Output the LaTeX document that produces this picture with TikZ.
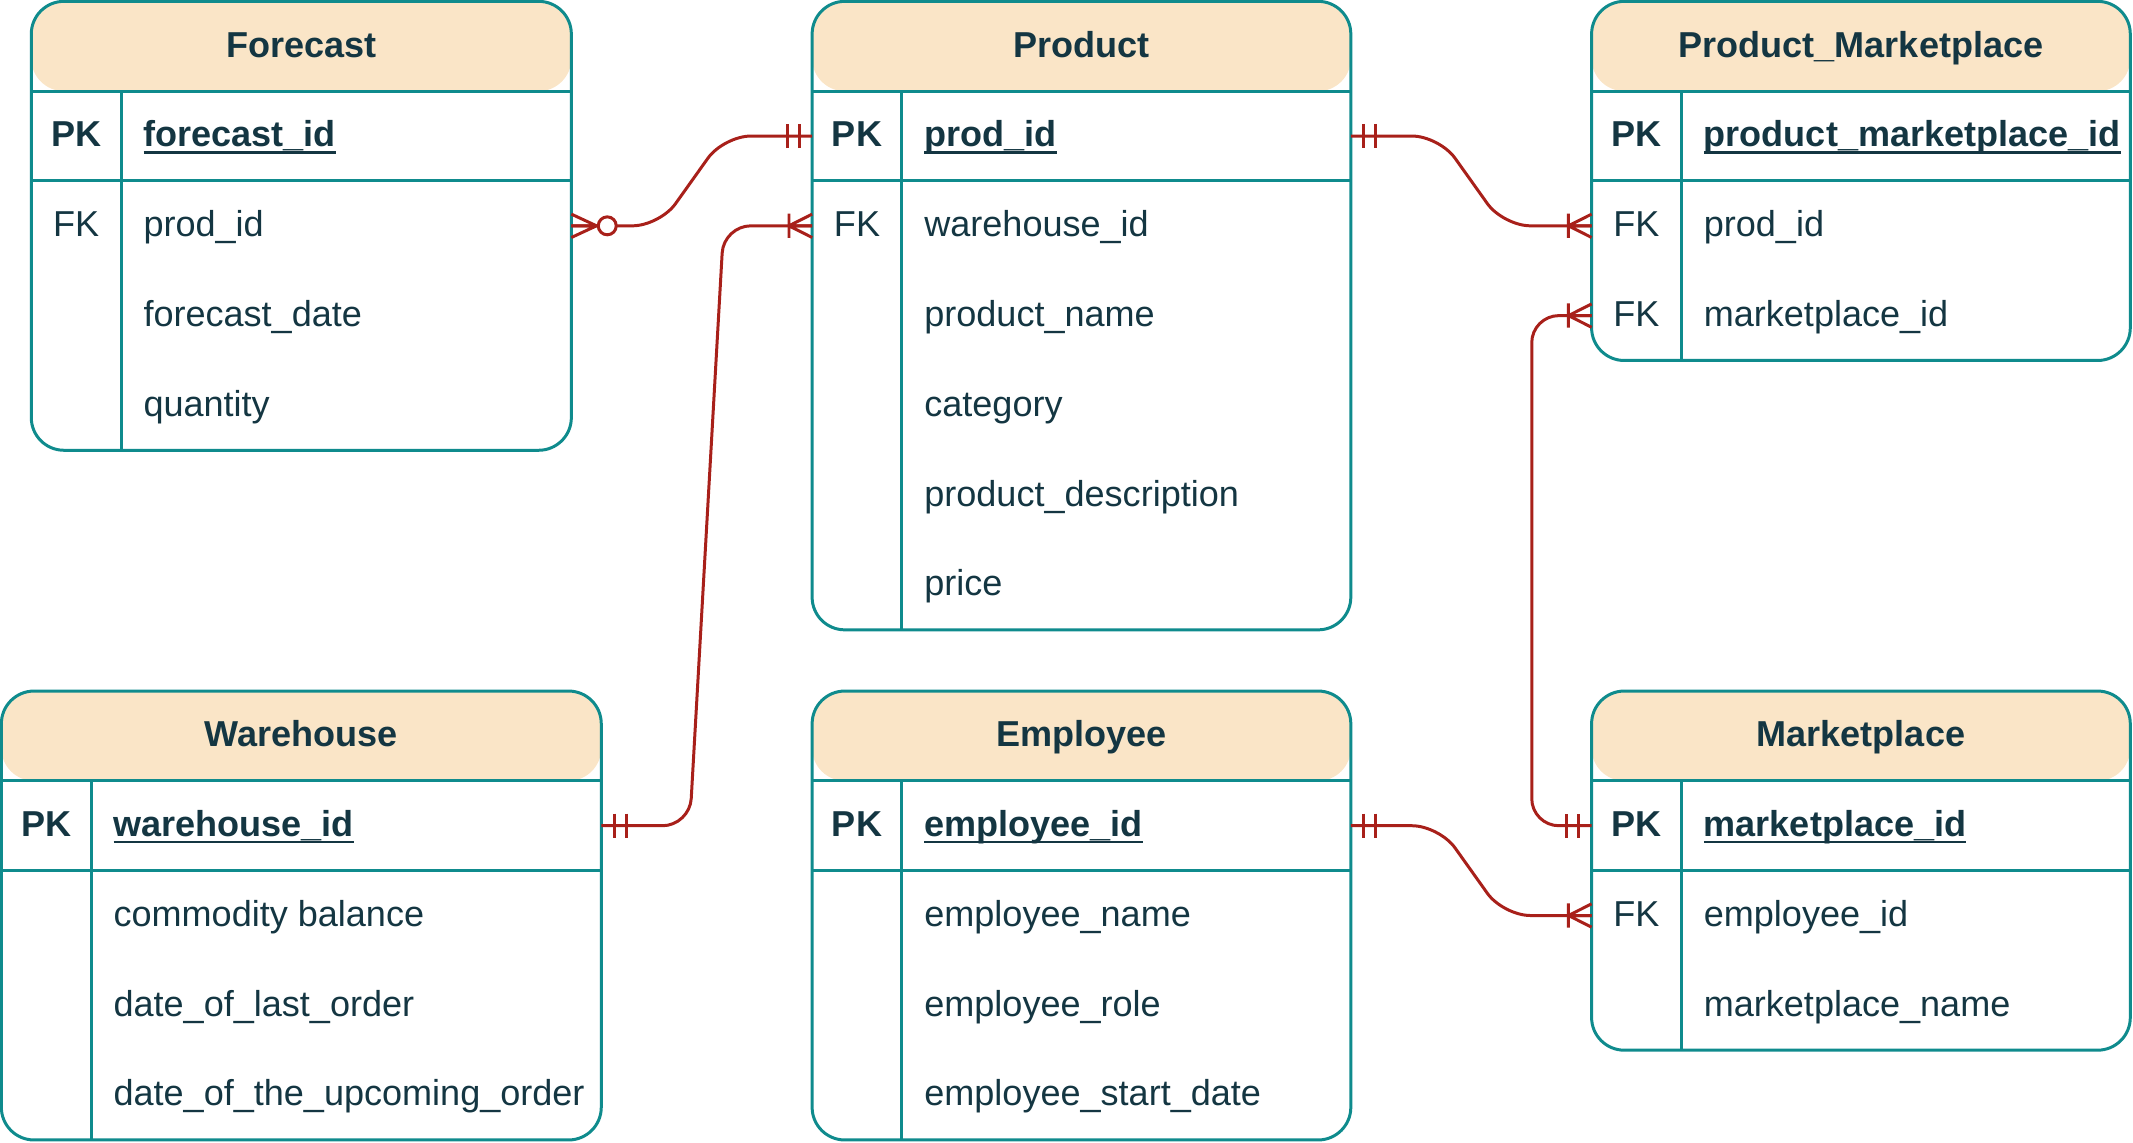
\documentclass[tikz,border=0pt]{standalone}
\usepackage{fontspec}
\setmainfont{Liberation Sans}
\usetikzlibrary{calc}
\definecolor{tealc}{HTML}{0F8B8D}
\definecolor{headc}{HTML}{FAE5C7}
\definecolor{textc}{HTML}{143642}
\definecolor{relc}{HTML}{A8201A}
\tikzset{
  tablebox/.style={draw=tealc, line width=2.2pt, rounded corners=24pt, inner sep=0pt, outer sep=0pt,
    path picture={\fill[headc] (path picture bounding box.north west) rectangle ([yshift=-66pt]path picture bounding box.north east);}},
  divline/.style={draw=tealc, line width=2.2pt},
  txt/.style={text=textc, font=\fontsize{26.5}{30}\selectfont, inner sep=0pt, outer sep=0pt, anchor=base west},
  keytxt/.style={txt, anchor=base},
  keybold/.style={txt, anchor=base, font=\fontsize{26.5}{30}\selectfont\bfseries},
  titletxt/.style={txt, anchor=base, font=\fontsize{26.5}{30}\selectfont\bfseries},
  pktxt/.style={txt, font=\fontsize{26.5}{30}\selectfont\bfseries},
  uline/.style={draw=textc, line width=1.7pt},
  rel/.style={draw=relc, line width=2.2pt, rounded corners=20pt},
  relmark/.style={draw=relc, line width=2.2pt},
  pics/onebar/.style={code={\draw[relmark] (9.5,-8.9) -- (9.5,8.9) (18.2,-8.9) -- (18.2,8.9);}},
  pics/onemany/.style={code={\draw[relmark] (0,-8.6) -- (17,0) -- (0,8.6) (0,0) -- (17,0) (17,-8.9) -- (17,8.9);}},
  pics/zeromany/.style={code={\draw[relmark] (0,-8.6) -- (18.5,0) -- (0,8.6) (0,0) -- (18.5,0);
     \draw[relmark, fill=white] (26.4,0) circle[radius=6.6];}},
}
% #1 name, #2 x0, #3 y0, #4 x1, #5 y1, #6 title
\newcommand\ERtable[6]{%
  \node[tablebox, minimum width={#4-#2}, minimum height={#5-#3}, anchor=north west] (#1) at (#2,#3) {};
  \node[titletxt] (#1-title) at ({(#2+#4)/2},#3+41) {#6};
  \draw[divline] (#2,#3+66) -- (#4,#3+66);
  \draw[divline] (#2,#3+132) -- (#4,#3+132);
  \draw[divline] (#2+66,#3+66) -- (#2+66,#5);
}
% #1 id, #2 x0, #3 row centre y, #4 text
\newcommand\ERpk[4]{%
  \node[keybold] (#1-k) at (#2+33,#3+8) {PK};
  \node[pktxt] (#1) at (#2+82.5,#3+8) {#4};
  \draw[uline] ([yshift=-4pt]#1.base west) -- ([yshift=-4pt]#1.base east);
}
\newcommand\ERfk[4]{%
  \node[keytxt] (#1-k) at (#2+33,#3+8) {FK};
  \node[txt] (#1) at (#2+82.5,#3+8) {#4};
}
\newcommand\ERattr[4]{%
  \node[txt] (#1) at (#2+82.5,#3+8) {#4};
}
\begin{document}
\begin{tikzpicture}[x=1pt,y=-1pt]
\useasboundingbox (0,0) rectangle (1568,840.2);

% Forecast
\ERtable{forecast}{23}{1}{420}{331}{Forecast}
\ERpk{fc-id}{23}{100}{forecast\_id}
\ERfk{fc-prod}{23}{166}{prod\_id}
\ERattr{fc-date}{23}{232}{forecast\_date}
\ERattr{fc-qty}{23}{298}{quantity}

% Product
\ERtable{product}{597}{1}{993}{463}{Product}
\ERpk{pr-id}{597}{100}{prod\_id}
\ERfk{pr-wh}{597}{166}{warehouse\_id}
\ERattr{pr-name}{597}{232}{product\_name}
\ERattr{pr-cat}{597}{298}{category}
\ERattr{pr-desc}{597}{364}{product\_description}
\ERattr{pr-price}{597}{430}{price}

% Product_Marketplace
\ERtable{prodmkt}{1170}{1}{1566}{265}{Product\_Marketplace}
\ERpk{pm-id}{1170}{100}{product\_marketplace\_id}
\ERfk{pm-prod}{1170}{166}{prod\_id}
\ERfk{pm-mkt}{1170}{232}{marketplace\_id}

% Warehouse
\ERtable{warehouse}{1}{508}{442}{838}{Warehouse}
\ERpk{wh-id}{1}{607}{warehouse\_id}
\ERattr{wh-bal}{1}{673}{commodity balance}
\ERattr{wh-last}{1}{739}{date\_of\_last\_order}
\ERattr{wh-next}{1}{805}{date\_of\_the\_upcoming\_order}

% Employee
\ERtable{employee}{597}{508}{993}{838}{Employee}
\ERpk{em-id}{597}{607}{employee\_id}
\ERattr{em-name}{597}{673}{employee\_name}
\ERattr{em-role}{597}{739}{employee\_role}
\ERattr{em-start}{597}{805}{employee\_start\_date}

% Marketplace
\ERtable{marketplace}{1170}{508}{1566}{772}{Marketplace}
\ERpk{mk-id}{1170}{607}{marketplace\_id}
\ERfk{mk-emp}{1170}{673}{employee\_id}
\ERattr{mk-name}{1170}{739}{marketplace\_name}

% connection points
\coordinate (fc-prodR) at (420,166);
\coordinate (pr-pkL) at (597,100);
\coordinate (pr-whL) at (597,166);
\coordinate (pr-pkR) at (993,100);
\coordinate (wh-pkR) at (442,607);
\coordinate (pm-prodL) at (1170,166);
\coordinate (pm-mktL) at (1170,232);
\coordinate (mk-pkL) at (1170,607);
\coordinate (mk-empL) at (1170,673);
\coordinate (em-pkR) at (993,607);

% connectors
\draw[rel] (fc-prodR) -- ++(65,0) -- ($(pr-pkL)+(-65,0)$) -- (pr-pkL);
\draw[rel] (wh-pkR) -- ++(65,0) -- ($(pr-whL)+(-65,0)$) -- (pr-whL);
\draw[rel] (pr-pkR) -- ++(65,0) -- ($(pm-prodL)+(-65,0)$) -- (pm-prodL);
\draw[rel] (mk-pkL) -- ++(-44,0) -- ($(pm-mktL)+(-44,0)$) -- (pm-mktL);
\draw[rel] (em-pkR) -- ++(65,0) -- ($(mk-empL)+(-65,0)$) -- (mk-empL);

% cardinality marks
\pic at (fc-prodR) {zeromany};
\pic[rotate=180] at (pr-pkL) {onebar};
\pic at (wh-pkR) {onebar};
\pic[rotate=180] at (pr-whL) {onemany};
\pic at (pr-pkR) {onebar};
\pic[rotate=180] at (pm-prodL) {onemany};
\pic[rotate=180] at (mk-pkL) {onebar};
\pic[rotate=180] at (pm-mktL) {onemany};
\pic at (em-pkR) {onebar};
\pic[rotate=180] at (mk-empL) {onemany};
\end{tikzpicture}
\end{document}
